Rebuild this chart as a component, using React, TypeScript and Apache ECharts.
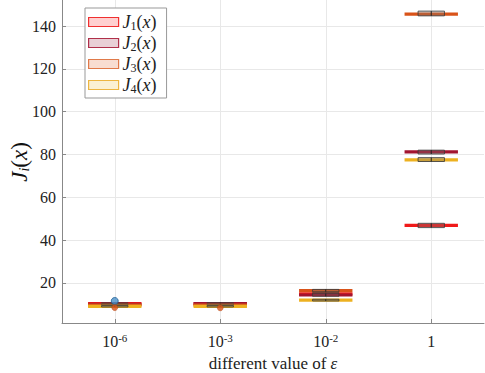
import React, { useEffect, useRef } from "react";
import * as echarts from "echarts";

const categories = ["10{sup|-6}", "10{sup|-3}", "10{sup|-2}", "1"];
const yTicks = [20, 40, 60, 80, 100, 120, 140];
const seriesNames = ["J1", "J2", "J3", "J4"];
const subs = ["1", "2", "3", "4"];
const lineColors = ["#F01A1A", "#A2142F", "#D95319", "#EDB120"];
const fillColors = ["#FFD0D0", "#E9D0D6", "#F8DDD1", "#FBF0D2"];
const borderColors = ["#F03030", "#B0304A", "#E07A4A", "#EDB540"];

const j1Median = [10.3, 10.2, 14.8, 46.8];
const j1Q1 = [9.9, 9.8, 14.2, 45.8];
const j1Q3 = [10.7, 10.6, 15.4, 47.8];
const j2Median = [9.9, 10.3, 14.3, 81.2];
const j2Q1 = [9.5, 9.9, 13.7, 80.2];
const j2Q3 = [10.3, 10.7, 14.9, 82.0];
const j3Median = [9.6, 9.6, 16.3, 145.6];
const j3Q1 = [9.2, 9.2, 15.8, 144.8];
const j3Q3 = [10.0, 10.0, 16.9, 147.0];
const j4Median = [9.0, 9.0, 11.9, 77.5];
const j4Q1 = [8.7, 8.7, 11.5, 76.7];
const j4Q3 = [9.4, 9.4, 12.3, 78.5];

const medians = [j1Median, j2Median, j3Median, j4Median];
const q1s = [j1Q1, j2Q1, j3Q1, j4Q1];
const q3s = [j1Q3, j2Q3, j3Q3, j4Q3];

const outliersBlue = [[0, 11.5]];
const outliersOrange = [[0, 8.4], [1, 8.3]];

const FONT = "'Liberation Serif', 'DejaVu Serif', serif";

export default function App() {
  const ref = useRef<HTMLDivElement>(null);
  useEffect(() => {
    if (!ref.current) return;
    const chart = echarts.init(ref.current, undefined, { renderer: "svg" });

    const boxSeries = seriesNames.map((name, si) => ({
      name,
      type: "custom",
      z: 2 + si,
      data: categories.map((_, ci) => [ci, q1s[si][ci], medians[si][ci], q3s[si][ci]]),
      encode: { x: 0, y: [1, 2, 3] },
      itemStyle: { color: lineColors[si] },
      renderItem: (params: any, api: any) => {
        const x = api.value(0);
        const q1 = api.value(1);
        const med = api.value(2);
        const q3 = api.value(3);
        const band = api.size([1, 0])[0];
        const pMed = api.coord([x, med]);
        const pQ1 = api.coord([x, q1]);
        const pQ3 = api.coord([x, q3]);
        const hw = band * 0.253;
        const bw = band * 0.125;
        return {
          type: "group",
          children: [
            {
              type: "line",
              shape: { x1: pMed[0] - hw, y1: pMed[1], x2: pMed[0] + hw, y2: pMed[1] },
              style: { stroke: lineColors[si], lineWidth: 3.2 },
            },
            {
              type: "rect",
              shape: { x: pQ3[0] - bw, y: pQ3[1], width: bw * 2, height: pQ1[1] - pQ3[1] },
              style: { fill: "rgba(120,120,120,0.3)", stroke: "rgba(60,60,60,0.85)", lineWidth: 1 },
            },
            {
              type: "line",
              shape: { x1: pMed[0], y1: pQ3[1], x2: pMed[0], y2: pQ1[1] },
              style: { stroke: "#222", lineWidth: 1 },
            },
          ],
        };
      },
    }));

    const legendFormatter = (name: string) => {
      const i = seriesNames.indexOf(name);
      return `{i|J}{s|${subs[i]}}{n|(}{i|x}{n|)}`;
    };
    const mathRich = {
      i: { fontFamily: FONT, fontStyle: "italic", fontSize: 18, color: "#222", lineHeight: 20 },
      n: { fontFamily: FONT, fontSize: 18, color: "#222", lineHeight: 20 },
      s: { fontFamily: FONT, fontSize: 12, color: "#222", lineHeight: 12, verticalAlign: "bottom", padding: [6, 0, 0, 0] },
    };

    chart.setOption({
      animation: false,
      grid: { left: 62, right: 1, top: 0, bottom: 50, containLabel: false, outerBoundsMode: "none" },
      graphic: [
        {
          type: "text",
          x: 19,
          y: 162,
          rotation: Math.PI / 2,
          style: {
            text: "{i|J}{s|i}{n|(}{i|x}{n|)}",
            align: "center",
            verticalAlign: "middle",
            rich: {
              i: { fontFamily: FONT, fontStyle: "italic", fontSize: 23, fill: "#111", lineHeight: 24 },
              n: { fontFamily: FONT, fontSize: 23, fill: "#111", lineHeight: 24 },
              s: { fontFamily: FONT, fontStyle: "italic", fontSize: 14, fill: "#111", lineHeight: 14, verticalAlign: "bottom" },
            },
          },
        },
      ],
      legend: {
        left: 85,
        top: 8,
        orient: "vertical",
        backgroundColor: "#fff",
        borderColor: "#999",
        borderWidth: 1,
        borderRadius: 0,
        padding: [5, 10, 3, 3],
        itemGap: 2,
        itemWidth: 30,
        itemHeight: 9,
        formatter: legendFormatter,
        textStyle: { rich: mathRich, padding: [0, 0, 0, -1] },
        data: seriesNames.map((name, i) => ({
          name,
          icon: "rect",
          itemStyle: { color: fillColors[i], borderColor: borderColors[i], borderWidth: 1.2 },
        })),
      },
      xAxis: {
        type: "value",
        min: -0.5,
        max: 3.5,
        name: "different value of {e|ε}",
        nameLocation: "middle",
        nameGap: 23,
        nameTextStyle: {
          fontFamily: FONT,
          fontSize: 17,
          color: "#222",
          rich: { e: { fontFamily: FONT, fontStyle: "italic", fontSize: 17, color: "#222" } },
        },
        axisLine: { show: true, onZero: false, lineStyle: { color: "#888", width: 1 } },
        axisTick: { show: true, inside: true, length: 4, lineStyle: { color: "#888" }, customValues: [0, 1, 2, 3] },
        splitLine: { show: true, lineStyle: { color: "#E8E8E8", width: 1 } },
        axisLabel: {
          customValues: [0, 1, 2, 3],
          margin: 9,
          formatter: (v: number) => categories[Math.round(v)],
          fontFamily: FONT,
          fontSize: 16,
          color: "#222",
          lineHeight: 18,
          rich: {
            sup: { fontFamily: FONT, fontSize: 11, color: "#222", verticalAlign: "top", lineHeight: 10 },
          },
        },
      },
      yAxis: {
        type: "value",
        min: 1.2,
        max: 152.2,
        axisLine: { show: true, onZero: false, lineStyle: { color: "#888", width: 1 } },
        axisTick: { show: true, inside: true, length: 4, lineStyle: { color: "#888" }, customValues: yTicks },
        splitLine: { show: true, lineStyle: { color: "#E8E8E8", width: 1 } },
        axisLabel: {
          customValues: yTicks,
          margin: 6,
          fontFamily: FONT,
          fontSize: 16,
          color: "#222",
        },
      },
      series: [
        ...boxSeries,
        {
          type: "scatter",
          name: "outB",
          data: outliersBlue,
          symbolSize: 7,
          z: 10,
          itemStyle: { color: "#4A90C8", borderColor: "#1F5F95", borderWidth: 1 },
        },
        {
          type: "scatter",
          name: "outO",
          data: outliersOrange,
          symbolSize: 6,
          z: 10,
          itemStyle: { color: "#D95319", borderColor: "#B04010", borderWidth: 0.5 },
        },
      ],
    });
    return () => chart.dispose();
  }, []);
  return (
    <div
      ref={ref}
      style={{ position: "absolute", left: 0, top: 0, width: 485, height: 373, background: "#fff" }}
    />
  );
}
